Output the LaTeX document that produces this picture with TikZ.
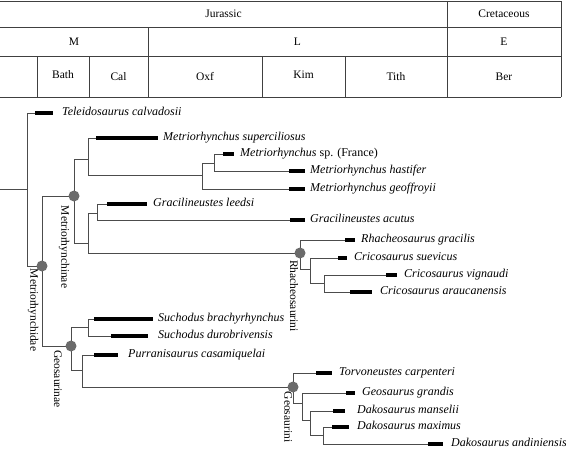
\documentclass[tikz,border=0pt]{standalone}
\usepackage{fontspec}
\setmainfont{Liberation Serif}
\usepackage{tikz}

\tikzset{
  branch/.style={draw=black!70, line width=0.8pt},
  bar/.style={line width=4pt, black},
  rule/.style={draw=black!75, line width=0.8pt},
  clade/.style={circle, fill=black!58, inner sep=0pt, minimum size=11pt},
  taxon/.style={anchor=mid west, inner sep=0pt, font=\fontsize{12}{14}\selectfont\itshape},
  period/.style={inner sep=0pt, font=\fontsize{11.5}{13}\selectfont},
  cladename/.style={rotate=-90, inner sep=0pt, font=\fontsize{11.5}{13}\selectfont}
}

\begin{document}
\begin{tikzpicture}[x=1pt, y=-1pt]
    \useasboundingbox (0,0) rectangle (566,450);

    % time scale
    \draw[rule] (0,1) -- (561,1);
    \draw[rule] (0,27) -- (561,27);
    \draw[rule] (0,56) -- (561,56);
    \draw[rule] (0,97) -- (561,97);
    \draw[rule] (447,1) -- (447,97);
    \draw[rule] (561,1) -- (561,97);
    \draw[rule] (148,27) -- (148,97);
    \draw[rule] (37,56) -- (37,97);
    \draw[rule] (89,56) -- (89,97);
    \draw[rule] (262,56) -- (262,97);
    \draw[rule] (345,56) -- (345,97);
    \node[period] (jur) at (223.5,14) {Jurassic};
    \node[period] (cret) at (504,14) {Cretaceous};
    \node[period] (mid) at (74,41.5) {M};
    \node[period] (late) at (297.5,41.5) {L};
    \node[period] (early) at (504,41.5) {E};
    \node[period] (bath) at (63,75) {Bath};
    \node[period] (cal) at (118.5,76.5) {Cal};
    \node[period] (oxf) at (205,76.5) {Oxf};
    \node[period] (kim) at (303.5,75) {Kim};
    \node[period] (tith) at (396,76.5) {Tith};
    \node[period] (ber) at (504,76.5) {Ber};

    % internal nodes
    \coordinate (start) at (0,189);
    \coordinate (root) at (27,189);
    \coordinate (metrid) at (42,266);
    \coordinate (minae) at (74,196);
    \coordinate (mA) at (88,159);
    \coordinate (mB) at (202,175);
    \coordinate (mC) at (214,163);
    \coordinate (gG) at (88,243);
    \coordinate (gH) at (97,213);
    \coordinate (rhach) at (300,253);
    \coordinate (cA) at (310,269);
    \coordinate (cB) at (324,283);
    \coordinate (gsinae) at (71,346);
    \coordinate (sA) at (88,327);
    \coordinate (sB) at (82,370);
    \coordinate (geoini) at (293,387);
    \coordinate (dA) at (302,403);
    \coordinate (dB) at (310,420);
    \coordinate (dC) at (323,435);

    % taxa: bar start, bar end, name
    \coordinate (tele) at (35,113);      \draw[bar] (tele) -- (53,113);
    \node[taxon] (tele-l) at (62,113) {Teleidosaurus calvadosii};
    \coordinate (superc) at (96,138);    \draw[bar, line width=4.5pt] (superc) -- (158,138);
    \node[taxon] (superc-l) at (163,138) {Metriorhynchus superciliosus};
    \coordinate (spfr) at (223,154);     \draw[bar] (spfr) -- (234,154);
    \node[taxon] (spfr-l) at (240,154) {Metriorhynchus\upshape{} sp. (France)};
    \coordinate (hast) at (289,171);     \draw[bar] (hast) -- (305,171);
    \node[taxon] (hast-l) at (310,171) {Metriorhynchus hastifer};
    \coordinate (geoff) at (289,189);    \draw[bar] (geoff) -- (305,189);
    \node[taxon] (geoff-l) at (310,189) {Metriorhynchus geoffroyii};
    \coordinate (leedsi) at (107,204);   \draw[bar] (leedsi) -- (147,204);
    \node[taxon] (leedsi-l) at (153,204) {Gracilineustes leedsi};
    \coordinate (acutus) at (290,220);   \draw[bar] (acutus) -- (305,220);
    \node[taxon] (acutus-l) at (310,220) {Gracilineustes acutus};
    \coordinate (grac) at (345,240);     \draw[bar] (grac) -- (355,240);
    \node[taxon] (grac-l) at (361,240) {Rhacheosaurus gracilis};
    \coordinate (suev) at (338,258);     \draw[bar] (suev) -- (347,258);
    \node[taxon] (suev-l) at (354,258) {Cricosaurus suevicus};
    \coordinate (vign) at (386,275);     \draw[bar] (vign) -- (397,275);
    \node[taxon] (vign-l) at (404,275) {Cricosaurus vignaudi};
    \coordinate (arau) at (350,292);     \draw[bar] (arau) -- (372,292);
    \node[taxon] (arau-l) at (380,292) {Cricosaurus araucanensis};
    \coordinate (brachy) at (94,319);    \draw[bar] (brachy) -- (153,319);
    \node[taxon] (brachy-l) at (158,319) {Suchodus brachyrhynchus};
    \coordinate (durob) at (111,336);    \draw[bar] (durob) -- (148,336);
    \node[taxon] (durob-l) at (158,336) {Suchodus durobrivensis};
    \coordinate (purr) at (94,355);      \draw[bar] (purr) -- (118,355);
    \node[taxon] (purr-l) at (128,355) {Purranisaurus casamiquelai};
    \coordinate (torv) at (316,373);     \draw[bar] (torv) -- (332,373);
    \node[taxon] (torv-l) at (339,373) {Torvoneustes carpenteri};
    \coordinate (grand) at (346,393);    \draw[bar] (grand) -- (355,393);
    \node[taxon] (grand-l) at (362,393) {Geosaurus grandis};
    \coordinate (mans) at (333,411);     \draw[bar] (mans) -- (345,411);
    \node[taxon] (mans-l) at (357,411) {Dakosaurus manselii};
    \coordinate (maxim) at (332,427);    \draw[bar] (maxim) -- (349,427);
    \node[taxon] (maxim-l) at (357,427) {Dakosaurus maximus};
    \coordinate (andin) at (428,444);    \draw[bar] (andin) -- (443,444);
    \node[taxon] (andin-l) at (451,444) {Dakosaurus andiniensis};

    % branches
    \draw[branch] (start) -- (root);
    \draw[branch] (root) |- (tele);
    \draw[branch] (root) |- (metrid);
    \draw[branch] (metrid) |- (minae);
    \draw[branch] (metrid) |- (gsinae);
    \draw[branch] (minae) |- (mA);
    \draw[branch] (minae) |- (gG);
    \draw[branch] (mA) |- (superc);
    \draw[branch] (mA) |- (mB);
    \draw[branch] (mB) |- (mC);
    \draw[branch] (mB) |- (geoff);
    \draw[branch] (mC) |- (spfr);
    \draw[branch] (mC) |- (hast);
    \draw[branch] (gG) |- (gH);
    \draw[branch] (gG) |- (rhach);
    \draw[branch] (gH) |- (leedsi);
    \draw[branch] (gH) |- (acutus);
    \draw[branch] (rhach) |- (grac);
    \draw[branch] (rhach) |- (cA);
    \draw[branch] (cA) |- (suev);
    \draw[branch] (cA) |- (cB);
    \draw[branch] (cB) |- (vign);
    \draw[branch] (cB) |- (arau);
    \draw[branch] (gsinae) |- (sA);
    \draw[branch] (gsinae) |- (sB);
    \draw[branch] (sA) |- (brachy);
    \draw[branch] (sA) |- (durob);
    \draw[branch] (sB) |- (purr);
    \draw[branch] (sB) |- (geoini);
    \draw[branch] (geoini) |- (torv);
    \draw[branch] (geoini) |- (dA);
    \draw[branch] (dA) |- (grand);
    \draw[branch] (dA) |- (dB);
    \draw[branch] (dB) |- (mans);
    \draw[branch] (dB) |- (dC);
    \draw[branch] (dC) |- (maxim);
    \draw[branch] (dC) |- (andin);

    % clades
    \node[clade] (metrid-c) at (metrid) {};
    \node[clade] (minae-c) at (minae) {};
    \node[clade] (gsinae-c) at (gsinae) {};
    \node[clade] (rhach-c) at (rhach) {};
    \node[clade] (geoini-c) at (geoini) {};
    \node[cladename] (metrid-n) at (33,310) {Metriorhynchidae};
    \node[cladename] (minae-n) at (64,247) {Metriorhynchinae};
    \node[cladename] (gsinae-n) at (58,379) {Geosaurinae};
    \node[cladename] (rhach-n) at (294,296) {Rhacheosaurini};
    \node[cladename] (geoini-n) at (288,417) {Geosaurini};
\end{tikzpicture}
\end{document}
